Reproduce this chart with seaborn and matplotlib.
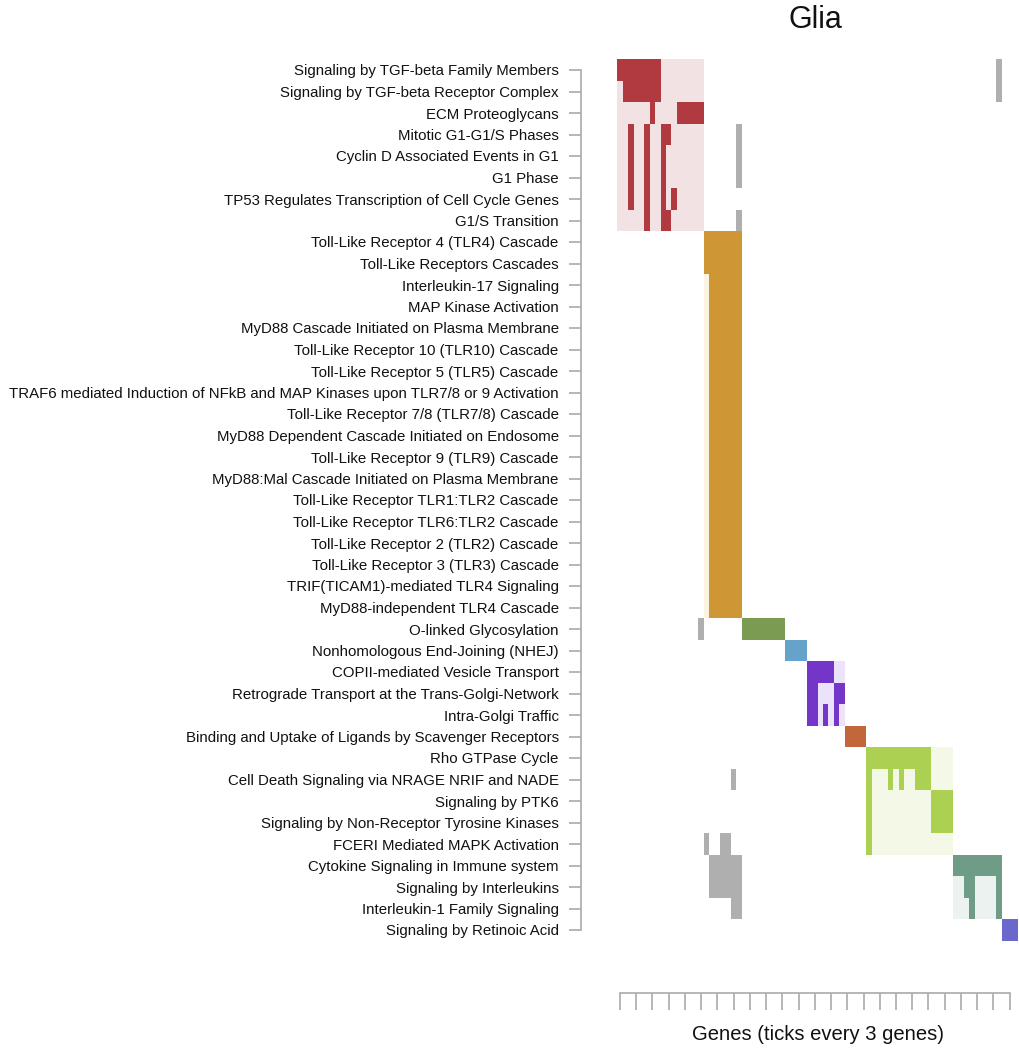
import numpy as np
import matplotlib
matplotlib.use("Agg")
import matplotlib.pyplot as plt
from matplotlib.colors import ListedColormap
import seaborn as sns

# ---------------- data ----------------
pathways = [
    "Signaling by TGF-beta Family Members",
    "Signaling by TGF-beta Receptor Complex",
    "ECM Proteoglycans",
    "Mitotic G1-G1/S Phases",
    "Cyclin D Associated Events in G1",
    "G1 Phase",
    "TP53 Regulates Transcription of Cell Cycle Genes",
    "G1/S Transition",
    "Toll-Like Receptor 4 (TLR4) Cascade",
    "Toll-Like Receptors Cascades",
    "Interleukin-17 Signaling",
    "MAP Kinase Activation",
    "MyD88 Cascade Initiated on Plasma Membrane",
    "Toll-Like Receptor 10 (TLR10) Cascade",
    "Toll-Like Receptor 5 (TLR5) Cascade",
    "TRAF6 mediated Induction of NFkB and MAP Kinases upon TLR7/8 or 9 Activation",
    "Toll-Like Receptor 7/8 (TLR7/8) Cascade",
    "MyD88 Dependent Cascade Initiated on Endosome",
    "Toll-Like Receptor 9 (TLR9) Cascade",
    "MyD88:Mal Cascade Initiated on Plasma Membrane",
    "Toll-Like Receptor TLR1:TLR2 Cascade",
    "Toll-Like Receptor TLR6:TLR2 Cascade",
    "Toll-Like Receptor 2 (TLR2) Cascade",
    "Toll-Like Receptor 3 (TLR3) Cascade",
    "TRIF(TICAM1)-mediated TLR4 Signaling",
    "MyD88-independent TLR4 Cascade",
    "O-linked Glycosylation",
    "Nonhomologous End-Joining (NHEJ)",
    "COPII-mediated Vesicle Transport",
    "Retrograde Transport at the Trans-Golgi-Network",
    "Intra-Golgi Traffic",
    "Binding and Uptake of Ligands by Scavenger Receptors",
    "Rho GTPase Cycle",
    "Cell Death Signaling via NRAGE NRIF and NADE",
    "Signaling by PTK6",
    "Signaling by Non-Receptor Tyrosine Kinases",
    "FCERI Mediated MAPK Activation",
    "Cytokine Signaling in Immune system",
    "Signaling by Interleukins",
    "Interleukin-1 Family Signaling",
    "Signaling by Retinoic Acid",
]
n_genes = 74

tlr_members = list(range(17, 23))
# gene indices (0-based, left to right) belonging to each pathway
members = [
    list(range(0, 8)) + [70],
    list(range(1, 8)) + [70],
    [6] + list(range(11, 16)),
    [2, 5, 8, 9, 22],
    [2, 5, 8, 22],
    [2, 5, 8, 22],
    [2, 5, 8, 10],
    [5, 8, 9, 22],
    list(range(16, 23)),
    list(range(16, 23)),
] + [tlr_members] * 16 + [
    [15] + list(range(23, 31)),
    list(range(31, 35)),
    list(range(35, 40)),
    [35, 36, 40, 41],
    [35, 36, 38, 40],
    list(range(42, 46)),
    list(range(46, 58)),
    [21, 46, 50, 52, 55, 56, 57],
    [46, 58, 59, 60, 61],
    [46, 58, 59, 60, 61],
    [16, 19, 20, 46],
    list(range(17, 23)) + list(range(62, 71)),
    list(range(17, 23)) + [64, 65, 70],
    [21, 22, 65, 70],
    [71, 72, 73],
]

# clusters: (first row, last row, first gene, last gene)
cluster_rows = [(0, 7), (8, 25), (26, 26), (27, 27), (28, 30), (31, 31), (32, 36), (37, 39), (40, 40)]
cluster_genes = [(0, 15), (16, 22), (23, 30), (31, 34), (35, 41), (42, 45), (46, 61), (62, 70), (71, 73)]
cluster_dark = ["#B03A40", "#CF9636", "#7B9B52", "#66A3CB", "#7435C9",
                "#C2663B", "#ABD052", "#6F9C86", "#6A68CA"]
cluster_light = ["#F3E2E4", "#FBF4E3", "#EEF3E6", "#E6F0F7", "#ECE3FA",
                 "#F7E8E0", "#F4F8E7", "#EBF2EF", "#E8E8F7"]
other_color = "#AFAFAF"

# ---------------- build matrix ----------------
mat = np.zeros((len(pathways), n_genes))
for r, genes in enumerate(members):
    for g in genes:
        mat[r, g] = 1
for k, ((r0, r1), (g0, g1)) in enumerate(zip(cluster_rows, cluster_genes)):
    for r in range(r0, r1 + 1):
        for g in range(g0, g1 + 1):
            mat[r, g] = 3 + 2 * k if g in members[r] else 2 + 2 * k

colors = ["#FFFFFF", other_color]
for d, l in zip(cluster_dark, cluster_light):
    colors += [l, d]
cmap = ListedColormap(colors)

# ---------------- plot ----------------
sns.set_style("white")
plt.rcParams["font.family"] = ["Liberation Sans", "DejaVu Sans"]

fig = plt.figure(figsize=(10.2, 10.5), dpi=100)
ax = fig.add_axes([617.3 / 1020, 1 - 940.75 / 1050, 400.5 / 1020, 881.5 / 1050])

sns.heatmap(mat, ax=ax, cmap=cmap, vmin=-0.5, vmax=len(colors) - 0.5,
            cbar=False, linewidths=0, xticklabels=False, yticklabels=pathways)

axis_col = "#AAAAAA"
for side in ["left", "bottom"]:
    ax.spines[side].set_visible(True)
    ax.spines[side].set_color(axis_col)
    ax.spines[side].set_linewidth(1.2)
for side in ["right", "top"]:
    ax.spines[side].set_visible(False)

ax.spines["left"].set_position(("outward", 26.1))
ax.spines["left"].set_bounds(0.5, len(pathways) - 0.5)
ax.spines["bottom"].set_position(("outward", 37.6))
ax.spines["bottom"].set_bounds(0.5, 72.5)

ax.set_yticks(np.arange(len(pathways)) + 0.5)
ax.set_yticklabels(pathways, rotation=0, fontsize=10.8, color="#111111")
ax.tick_params(axis="y", length=8.6, width=1.2, color=axis_col, pad=7.5, left=True)

ax.set_xticks(np.arange(0, 73, 3) + 0.5)
ax.set_xticklabels([])
ax.tick_params(axis="x", length=12.2, width=1.2, color=axis_col, bottom=True, direction="out")
ax.set_xlabel("Genes (ticks every 3 genes)", fontsize=14.6, labelpad=7, color="#111111")

fig.text(815 / 1020, 1 - 20 / 1050, "Glia", ha="center", va="center", fontsize=22, color="#111111")

fig.savefig("out.png", dpi=100)
